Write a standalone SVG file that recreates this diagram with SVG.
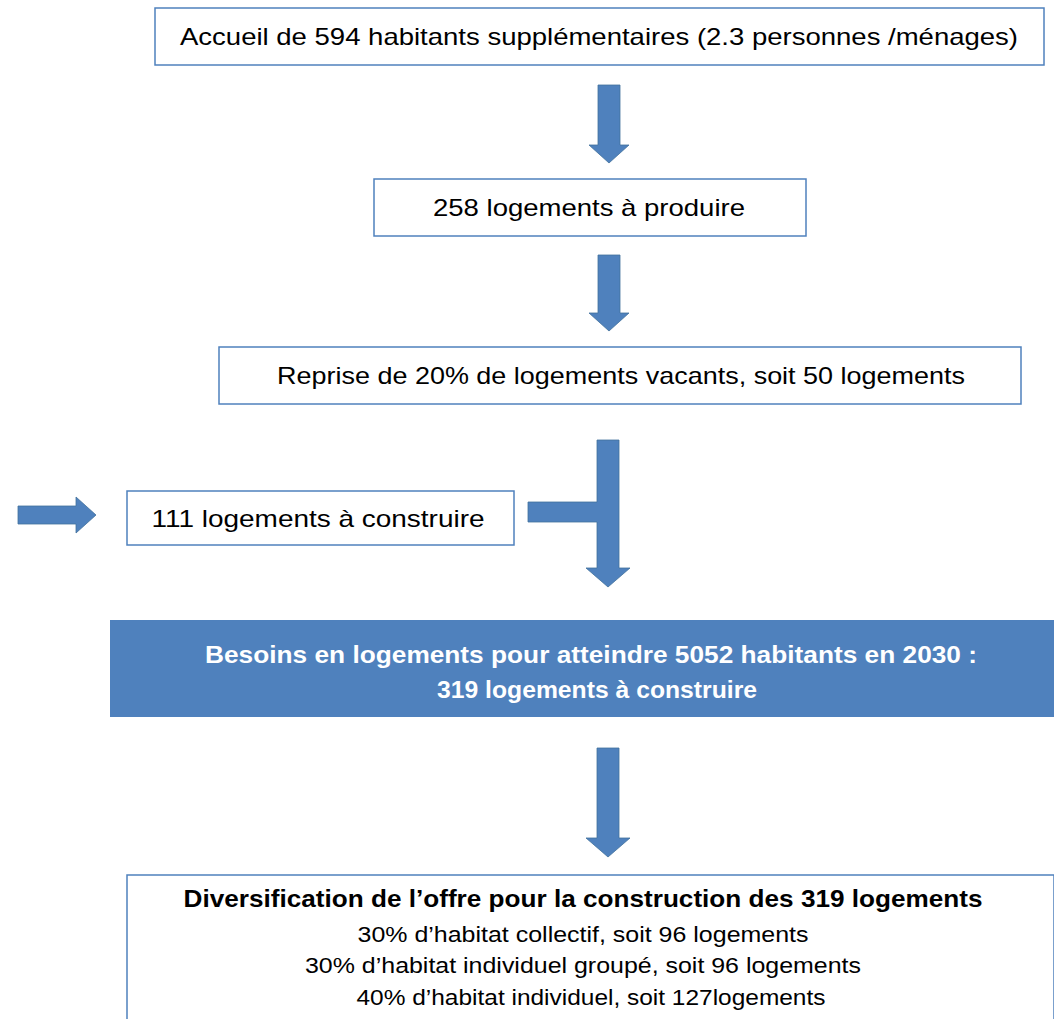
<svg xmlns="http://www.w3.org/2000/svg" width="1054" height="1019" viewBox="0 0 1054 1019">
<style>
.box{fill:#fff;stroke:#4F81BD;stroke-width:1.5}
.t{font-family:"Liberation Sans",Arial,sans-serif;font-size:24px;fill:#000;text-anchor:middle}
.w{fill:#fff;font-weight:bold}
.b{font-weight:bold}
.s{font-size:22px}
.arr{fill:#4F81BD;stroke:#41719C;stroke-width:0.8}
</style>
<rect width="1054" height="1019" fill="#fff"/>
<g id="connectors">
<path class="arr" d="M598,85 H620 V145 H629 L609,163 L589,145 H598 Z"/>
<path class="arr" d="M598,255 H620 V313 H629 L609,331 L589,313 H598 Z"/>
<path class="arr" d="M597,440 H619 V568 H630 L608,587 L586,568 H597 V522 H528 V502 H597 Z"/>
<path class="arr" d="M18,506 H76 V497 L96,515 L76,533 V524 H18 Z"/>
<path class="arr" d="M597,748 H619 V838 H630 L608,857 L586,838 H597 Z"/>
</g>
<g id="n1"><rect class="box" x="155" y="8" width="889" height="57"/><text class="t" x="599" y="45" textLength="838" lengthAdjust="spacingAndGlyphs">Accueil de 594  habitants supplémentaires (2.3 personnes /ménages)</text></g>
<g id="n2"><rect class="box" x="374" y="179" width="432" height="57"/><text class="t" x="589" y="216" textLength="312" lengthAdjust="spacingAndGlyphs">258 logements à produire</text></g>
<g id="n3"><rect class="box" x="219" y="347" width="802" height="57"/><text class="t" x="621" y="384" textLength="688" lengthAdjust="spacingAndGlyphs">Reprise de 20% de logements vacants, soit 50 logements</text></g>
<g id="n4"><rect class="box" x="127" y="491" width="387" height="54"/><text class="t" x="318" y="527" textLength="333" lengthAdjust="spacingAndGlyphs">111 logements à construire</text></g>
<g id="n5"><rect x="110" y="620" width="944" height="97" fill="#4F81BD"/><text class="t w" x="591" y="663" textLength="772" lengthAdjust="spacingAndGlyphs">Besoins en logements pour atteindre 5052  habitants en 2030  :</text><text class="t w" x="597" y="698" textLength="320" lengthAdjust="spacingAndGlyphs">319 logements à construire</text></g>
<g id="n6"><rect class="box" x="127" y="875" width="927" height="150"/>
<text class="t b" x="583" y="907" textLength="799" lengthAdjust="spacingAndGlyphs">Diversification de l’offre pour la construction des 319 logements</text>
<text class="t s" x="583" y="942" textLength="451" lengthAdjust="spacingAndGlyphs">30% d’habitat  collectif, soit 96 logements</text>
<text class="t s" x="583" y="973" textLength="556" lengthAdjust="spacingAndGlyphs">30% d’habitat  individuel groupé, soit 96 logements</text>
<text class="t s" x="591" y="1005" textLength="469" lengthAdjust="spacingAndGlyphs">40% d’habitat  individuel, soit 127logements</text>
</g>
</svg>
